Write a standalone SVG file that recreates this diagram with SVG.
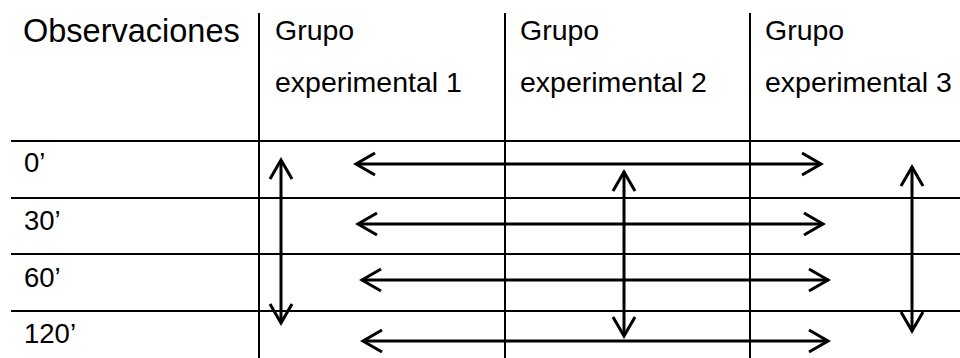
<svg xmlns="http://www.w3.org/2000/svg" width="960" height="358" viewBox="0 0 960 358">
<style>
.t{font-family:"Liberation Sans",Arial,sans-serif;fill:#000}
.h{font-size:28.5px}
.o{font-size:32.5px}
.r{font-size:27.5px}
.g{stroke:#000;stroke-width:2;fill:none}
.a{stroke:#000;stroke-width:3;fill:none;marker-start:url(#ah);marker-end:url(#ah)}
</style>
<defs>
<marker id="ah" markerUnits="userSpaceOnUse" orient="auto-start-reverse" overflow="visible" refX="0" refY="0" markerWidth="1" markerHeight="1">
<path d="M-19,-11 L0,0 L-19,11" fill="none" stroke="#000" stroke-width="3"/>
</marker>
</defs>
<rect width="960" height="358" fill="#fff"/>
<g id="grid">
<line class="g" x1="11" y1="141" x2="960" y2="141"/>
<line class="g" x1="11" y1="198" x2="960" y2="198"/>
<line class="g" x1="11" y1="254" x2="960" y2="254"/>
<line class="g" x1="11" y1="311" x2="960" y2="311"/>
<line class="g" x1="259" y1="13" x2="259" y2="358"/>
<line class="g" x1="505" y1="13" x2="505" y2="358"/>
<line class="g" x1="750" y1="13" x2="750" y2="358"/>
</g>
<g id="header-obs"><text class="t o" x="23" y="42">Observaciones</text></g>
<g id="header-g1"><text class="t h" x="275" y="40">Grupo</text><text class="t h" x="275" y="92">experimental 1</text></g>
<g id="header-g2"><text class="t h" x="520" y="40">Grupo</text><text class="t h" x="520" y="92">experimental 2</text></g>
<g id="header-g3"><text class="t h" x="765" y="40">Grupo</text><text class="t h" x="765" y="92">experimental 3</text></g>
<g id="row-0"><text class="t r" x="24" y="172">0’</text></g>
<g id="row-30"><text class="t r" x="24" y="230">30’</text></g>
<g id="row-60"><text class="t r" x="24" y="287">60’</text></g>
<g id="row-120"><text class="t r" x="24" y="343">120’</text></g>
<g id="connectors">
<line class="a" x1="356" y1="164" x2="821" y2="164"/>
<line class="a" x1="358" y1="224" x2="823" y2="224"/>
<line class="a" x1="362" y1="280" x2="828" y2="280"/>
<line class="a" x1="363" y1="341" x2="828" y2="341"/>
<line class="a" x1="281" y1="160" x2="281" y2="323"/>
<line class="a" x1="624" y1="172" x2="624" y2="336"/>
<line class="a" x1="912" y1="167" x2="912" y2="331"/>
</g>
</svg>
